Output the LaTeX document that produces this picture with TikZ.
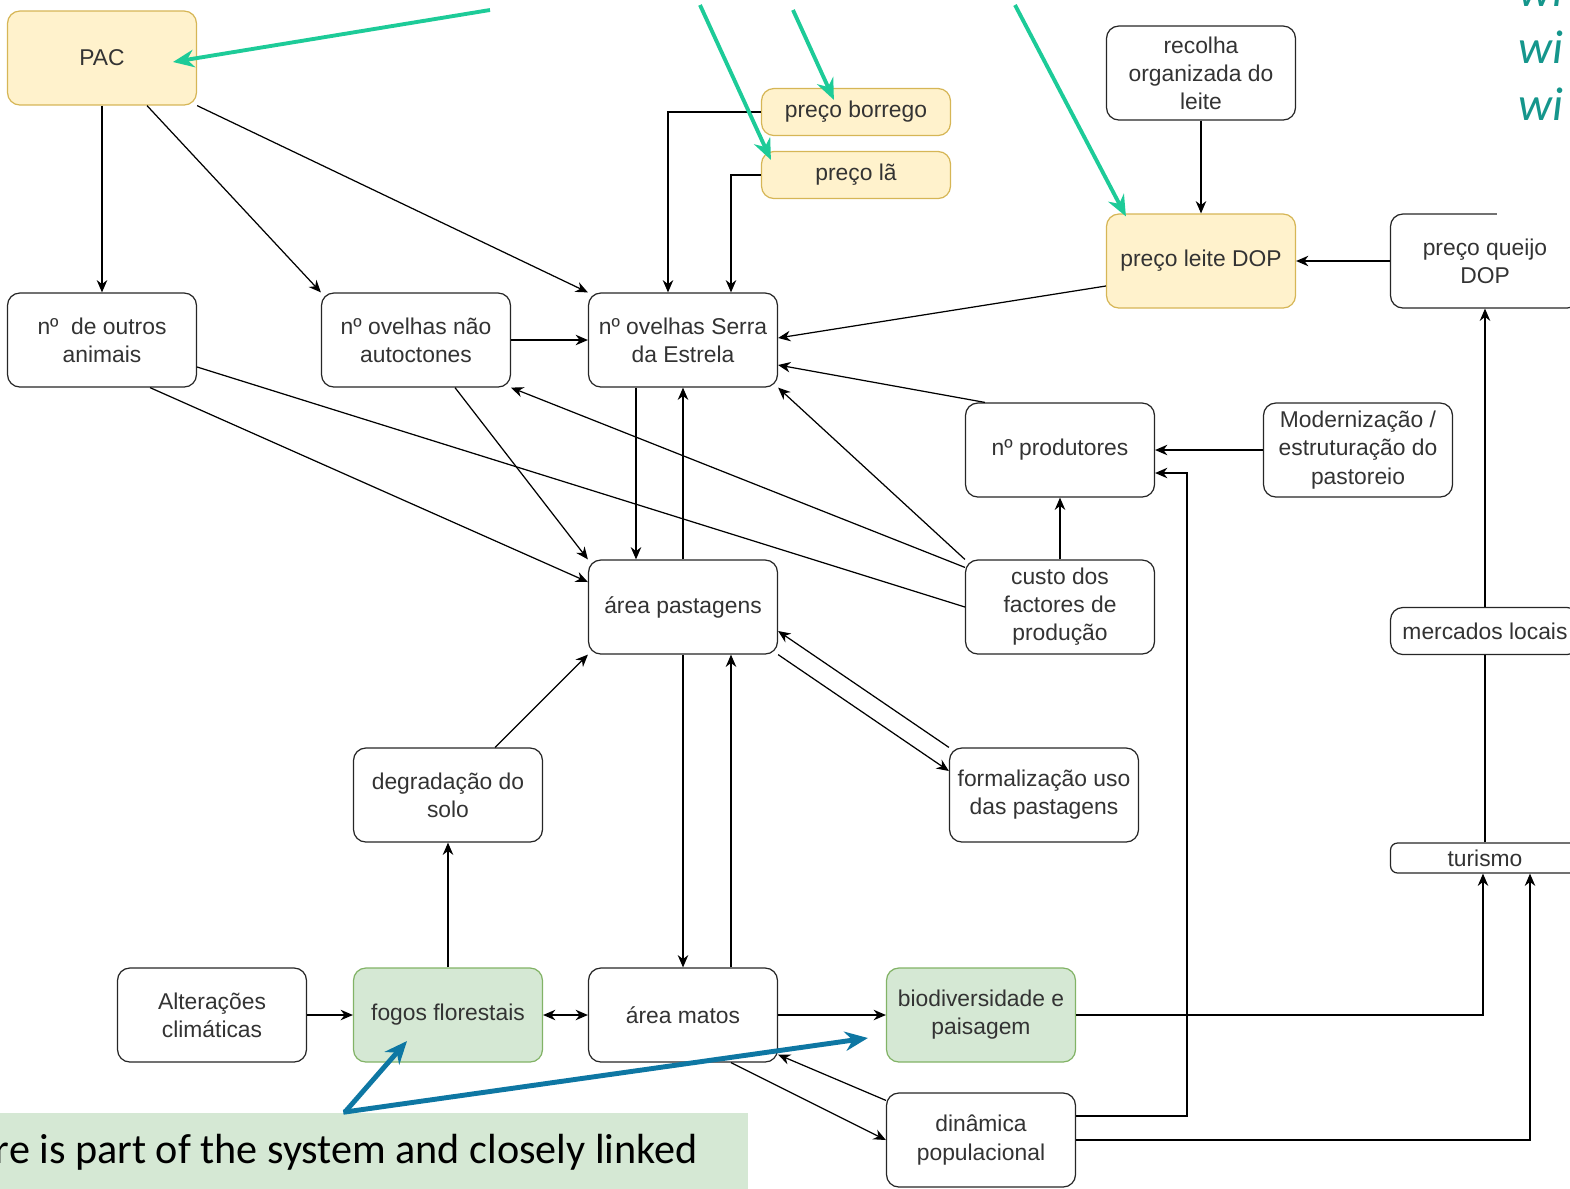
\documentclass[tikz,border=0pt]{standalone}
\usepackage{fontspec}
\setmainfont{Liberation Sans}
\newfontfamily\calibri{Carlito}
\usetikzlibrary{arrows.meta, positioning, calc}
\definecolor{txt}{HTML}{333333}
\definecolor{yfill}{HTML}{FFF2CC}
\definecolor{ydraw}{HTML}{D6B656}
\definecolor{gfill}{HTML}{D5E8D4}
\definecolor{gdraw}{HTML}{82B366}
\definecolor{mint}{HTML}{1DCB98}
\definecolor{petrol}{HTML}{0E77A3}
\definecolor{tealtext}{HTML}{15968C}

\begin{document}
\begin{tikzpicture}[x=0.02cm, y=-0.02cm,
    box/.style={draw=black!85, line width=0.7pt, rounded corners=7pt, fill=white, text=txt, align=center,
        minimum width=3.78cm, minimum height=1.88cm, inner sep=1pt, font=\fontsize{13}{16}\selectfont},
    ybox/.style={box, draw=ydraw, fill=yfill},
    gbox/.style={box, draw=gdraw, fill=gfill},
    slim/.style={box, minimum height=0.94cm},
    flat/.style={box, minimum height=0.6cm, rounded corners=4pt},
    arr/.style={-{Stealth[length=7pt,width=6pt]}, line width=0.7pt},
    arrs/.style={{Stealth[length=7pt,width=6pt]}-{Stealth[length=7pt,width=6pt]}, line width=0.7pt},
    link/.style={line width=0.7pt},
    mintarr/.style={-{Stealth[length=12pt,width=10pt]}, mint, line width=2.2pt},
    bluearr/.style={-{Stealth[length=13pt,width=11pt]}, petrol, line width=2.8pt}]
    \useasboundingbox (0,0) rectangle (1570,1188);
    \clip (0,0) rectangle (1570,1188);

    % nodes
    \node [ybox] (pac) at (102,58) {PAC};
    \node [box] (outros) at (102,340) {nº\ \ de outros\\animais};
    \node [box] (naut) at (416,340) {nº ovelhas não\\autoctones};
    \node [box] (serra) at (683,340) {nº ovelhas Serra\\da Estrela};
    \node [ybox, minimum height=0.94cm] (borrego) at (856,112) {preço borrego};
    \node [ybox, minimum height=0.94cm] (la) at (856,175) {preço lã};
    \node [box] (recolha) at (1201,73) {recolha\\organizada do\\leite};
    \node [ybox] (leite) at (1201,261) {preço leite DOP};
    \node [box] (queijo) at (1485,261) {preço queijo\\DOP};
    \node [box] (prod) at (1060,450) {nº produtores};
    \node [box] (modern) at (1358,450) {Modernização /\\estruturação do\\pastoreio};
    \node [box] (custo) at (1060,607) {custo dos\\factores de\\produção};
    \node [box] (past) at (683,607) {área pastagens};
    \node [slim] (merc) at (1485,631) {mercados locais};
    \node [box] (degr) at (448,795) {degradação do\\solo};
    \node [box] (form) at (1044,795) {formalização uso\\das pastagens};
    \node [flat] (tur) at (1485,858) {turismo};
    \node [box] (alter) at (212,1015) {Alterações\\climáticas};
    \node [gbox] (fogos) at (448,1015) {fogos florestais};
    \node [box] (matos) at (683,1015) {área matos};
    \node [gbox] (biod) at (981,1015) {biodiversidade e\\paisagem};
    \node [box] (dinam) at (981,1140) {dinâmica\\populacional};

    % links
    \draw [arr] (pac) -- (outros);
    \draw [arr] ($(pac.south)+(45,0)$) -- (naut.north west);
    \draw [arr] (pac.south east) -- (serra.north west);
    \draw [arr] (borrego.west) -| ($(serra.north)+(-15,0)$);
    \draw [arr] (la.west) -| ($(serra.north)+(48,0)$);
    \draw [arr] (recolha) -- (leite);
    \draw [arr] (queijo.west) -- (leite.east);
    \draw [arr] ($(leite.west)+(0,25)$) -- ($(serra.east)+(0,-2)$);
    \draw [arr] (naut) -- (serra);
    \draw [arr] ($(prod.north west)+(20,0)$) -- ($(serra.east)+(0,25)$);
    \draw [arr] (custo.north west) -- (serra.south east);
    \draw [arr] ($(custo.north west)+(0,8)$) -- (naut.south east);
    \draw [link] ($(outros.east)+(0,27)$) -- (custo.west);
    \draw [arr] ($(outros.south)+(48,0)$) -- ($(past.west)+(0,-25)$);
    \draw [arr] ($(naut.south)+(39,0)$) -- (past.north west);
    \draw [arr] ($(serra.south)+(-47,0)$) -- ($(past.north)+(-47,0)$);
    \draw [arr] (past) -- (serra);
    \draw [arr] (custo) -- (prod);
    \draw [arr] (modern) -- (prod);
    \draw [arr] ($(dinam.east)+(0,-24)$) -| ($(prod.east)+(32,23)$) -- ($(prod.east)+(0,23)$);
    \draw [link] (tur) -- (merc);
    \draw [arr] (merc) -- (queijo);
    \draw [arr] (biod.east) -| ($(tur.south)+(-2,0)$);
    \draw [arr] (dinam.east) -| ($(tur.south)+(45,0)$);
    \draw [arr] (form.north west) -- ($(past.east)+(0,24)$);
    \draw [arr] (past.south east) -- ($(form.west)+(0,-24)$);
    \draw [arr] ($(degr.north)+(47,0)$) -- (past.south west);
    \draw [arr] (fogos) -- (degr);
    \draw [arr] (alter) -- (fogos);
    \draw [arrs] (fogos) -- (matos);
    \draw [arr] (past) -- (matos);
    \draw [arr] ($(matos.north)+(48,0)$) -- ($(past.south)+(48,0)$);
    \draw [arr] (matos) -- (biod);
    \draw [arr] ($(matos.south)+(48,0)$) -- (dinam.west);
    \draw [arr] ($(dinam.north west)+(0,8)$) -- ($(matos.south east)+(0,-8)$);

    % callouts
    \fill [white] (1497,-2) rectangle (1572,216);
    \node [anchor=base west, text=tealtext, font=\calibri\itshape\fontsize{27}{32}\selectfont, inner sep=0pt] (w1) at (1518,6) {wi};
    \node [anchor=base west, text=tealtext, font=\calibri\itshape\fontsize{27}{32}\selectfont, inner sep=0pt] (w2) at (1518,63) {wi};
    \node [anchor=base west, text=tealtext, font=\calibri\itshape\fontsize{27}{32}\selectfont, inner sep=0pt] (w3) at (1518,120) {wi};
    \coordinate (m1) at (490,10);
    \coordinate (m2) at (700,5);
    \coordinate (m3) at (793,10);
    \coordinate (m4) at (1015,5);
    \draw [mintarr] (m1) -- ($(pac.center)+(71,4)$);
    \draw [mintarr] (m2) -- ($(la.north west)+(10,9)$);
    \draw [mintarr] (m3) -- ($(borrego.north west)+(73,12)$);
    \draw [mintarr] (m4) -- ($(leite.north west)+(20,3)$);
    \fill [gfill] (0,1113) rectangle (748,1190);
    \node [anchor=base east, inner sep=0pt, font=\calibri\fontsize{24}{29}\selectfont] (note) at (698,1163) {re is part of the system and closely linked};
    \coordinate (b0) at (345,1112);
    \draw [bluearr] (b0) -- ($(fogos.center)+(-41,26)$);
    \draw [bluearr, shorten <=-1pt] (b0) -- ($(biod.west)+(-18,23)$);
\end{tikzpicture}
\end{document}
